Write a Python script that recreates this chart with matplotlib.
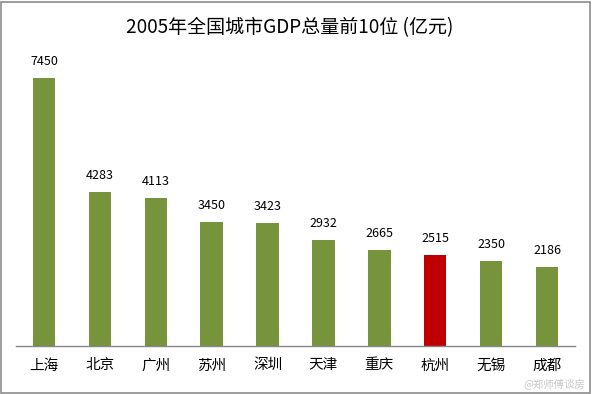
import matplotlib
matplotlib.use("Agg")
import matplotlib.pyplot as plt
from matplotlib.patches import Rectangle

plt.rcParams['font.family'] = ['Noto Sans CJK SC', 'DejaVu Sans']

cities = ["上海", "北京", "广州", "苏州", "深圳", "天津", "重庆", "杭州", "无锡", "成都"]
gdp = [7450, 4283, 4113, 3450, 3423, 2932, 2665, 2515, 2350, 2186]
highlight = "杭州"

green = "#77933C"
red = "#C00000"
colors = [red if c == highlight else green for c in cities]

fig = plt.figure(figsize=(5.92, 3.94), dpi=100)
ax = fig.add_axes([16 / 592, (394 - 346) / 394, 559 / 592, 288 / 394])

x = range(len(cities))
bars = ax.bar(x, gdp, width=0.4, color=colors, zorder=2)
for b, v in zip(bars, gdp):
    ax.text(b.get_x() + b.get_width() / 2, v + 280, str(v),
            ha="center", va="bottom", fontsize=9, color="black")

ax.set_xlim(-0.5, len(cities) - 0.5)
ax.set_ylim(0, 8000)
ax.set_xticks(list(x))
ax.set_xticklabels(cities, fontsize=10.5)
ax.tick_params(axis="x", length=0, pad=9)
ax.set_yticks([])
for s in ["top", "right", "left"]:
    ax.spines[s].set_visible(False)
ax.spines["bottom"].set_color("#868686")
ax.spines["bottom"].set_linewidth(1.0)

fig.text(290 / 592, 1 - 28 / 394, "2005年全国城市GDP总量前10位 (亿元)",
         ha="center", va="center", fontsize=13.7)

# faint watermark, bottom right
fig.text(585 / 592, 1 - 384 / 394, "@郑师傅谈房", ha="right", va="center",
         fontsize=7.5, color="#c8c8c8")

fig.patches.append(Rectangle((1 / 592, 1 / 394), 589 / 592, 391 / 394,
                             transform=fig.transFigure, fill=False,
                             edgecolor="#8c8c8c", linewidth=1.2))

fig.savefig("out.png", dpi=100)
